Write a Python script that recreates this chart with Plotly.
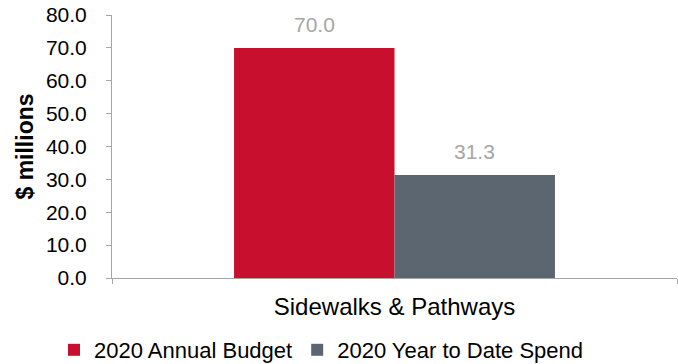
import plotly.graph_objects as go

categories = ["Sidewalks & Pathways"]
series_names = ["2020 Annual Budget", "2020 Year to Date Spend"]
budget = [70.0]
ytd_spend = [31.3]
colors = ["#C8102E", "#5B6670"]
y_ticks = [0, 10, 20, 30, 40, 50, 60, 70, 80]

FONT = "Liberation Sans, Arial"
BARGAP = 0.432

fig = go.Figure()
series = [budget, ytd_spend]
n = len(series)
bar_w = (1 - BARGAP) / n
for i, (name, vals, col) in enumerate(zip(series_names, series, colors)):
    fig.add_trace(go.Bar(
        x=categories, y=vals, name=name, marker=dict(color=col, line=dict(width=0)),
    ))
    # value labels above each bar, placed at the bar's group offset
    offset = -(1 - BARGAP) / 2 + bar_w * (i + 0.5)
    for ci, v in enumerate(vals):
        fig.add_annotation(
            x=ci + offset, y=v, xref="x", yref="y", text=f"{v:.1f}",
            showarrow=False, yanchor="bottom", yshift=10,
            font=dict(color="#A6A6A6", size=21, family=FONT),
        )

fig.update_layout(
    width=678, height=364,
    margin=dict(l=112, r=1, t=15, b=86, autoexpand=False),
    paper_bgcolor="white", plot_bgcolor="white",
    barmode="group", bargap=BARGAP, bargroupgap=0,
    font=dict(family=FONT, size=20, color="#000000"),
    showlegend=True,
    legend=dict(orientation="h", xref="container", yref="container",
                x=54 / 678, xanchor="left", y=14 / 364, yanchor="middle",
                font=dict(size=22), itemwidth=30,
                traceorder="normal", borderwidth=0),
    xaxis=dict(showline=True, linecolor="#A6A6A6", linewidth=1, ticks="outside",
               tickson="boundaries", ticklen=5, tickcolor="#A6A6A6", showgrid=False,
               tickfont=dict(size=24), automargin=False, ticklabelstandoff=7),
    yaxis=dict(range=[0, 80], tickvals=y_ticks, tickformat=".1f", showline=True,
               linecolor="#A6A6A6", linewidth=1, ticks="outside", ticklen=5,
               tickcolor="#A6A6A6", showgrid=False, zeroline=False, automargin=False,
               ticklabelstandoff=15, ticklabeloverflow="allow",
               title=dict(text="<b>$ millions</b>", font=dict(size=23), standoff=5),
               tickfont=dict(size=21)),
)

fig.write_html("out.html", config={"displayModeBar": False},
               post_script="document.body.style.margin='0';")
